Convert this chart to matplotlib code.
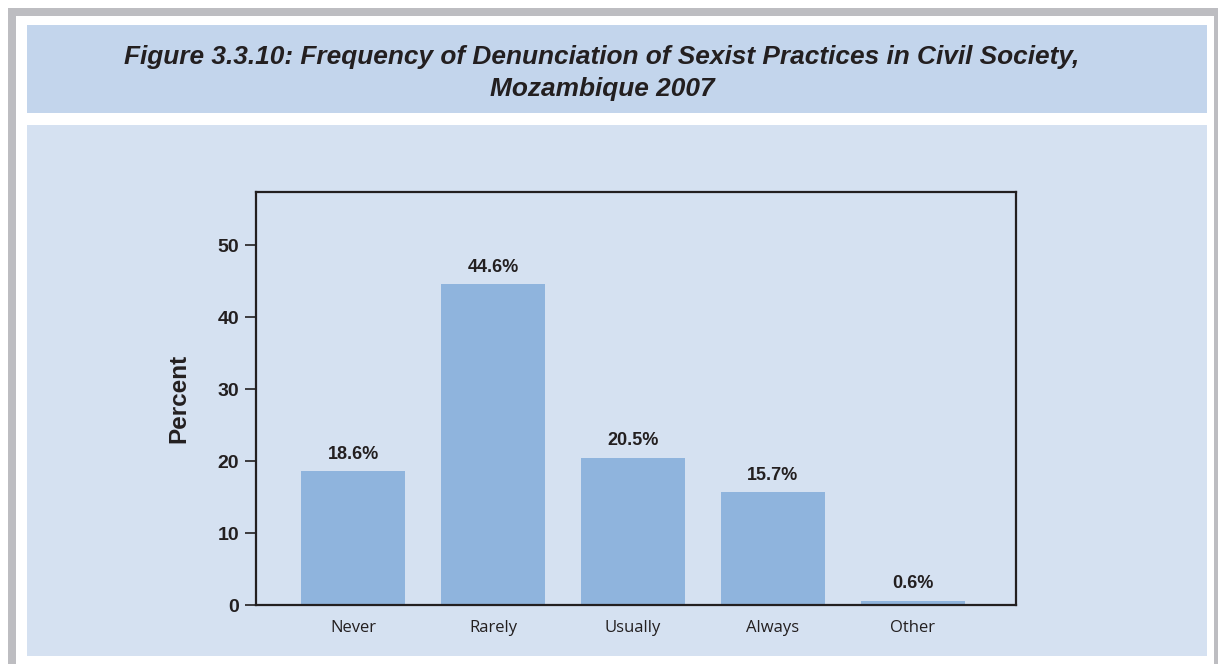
import matplotlib
matplotlib.use("Agg")
import matplotlib.pyplot as plt
from matplotlib.patches import Rectangle

plt.rcParams['font.family'] = ['Liberation Sans', 'DejaVu Sans']

categories = ["Never", "Rarely", "Usually", "Always", "Other"]
percent = [18.6, 44.6, 20.5, 15.7, 0.6]
yticks = [0, 10, 20, 30, 40, 50]
title = "Figure 3.3.10: Frequency of Denunciation of Sexist Practices in Civil Society,\nMozambique 2007"

W, H = 1218, 664
fig = plt.figure(figsize=(W / 100, H / 100), dpi=100)
fig.patch.set_facecolor("white")


def px_box(x0, y0, x1, y1, color):
    # rectangle given in pixel coords, top-left origin
    fig.patches.append(Rectangle((x0 / W, 1 - y1 / H), (x1 - x0) / W, (y1 - y0) / H,
                                 transform=fig.transFigure, facecolor=color,
                                 edgecolor="none", zorder=-1))


# grey frame, title strip, panel
px_box(8, 8, 1218, 16, "#bdbdc1")
px_box(8, 8, 16, 664, "#bdbdc1")
px_box(1214, 8, 1218, 664, "#bdbdc1")
px_box(27, 25, 1207, 113, "#c3d5ec")
px_box(27, 125, 1207, 656, "#d5e1f1")

fig.text(602 / W, 1 - 73 / H, title, ha="center", va="center", fontsize=18.9,
         fontweight="bold", fontstyle="italic", color="#231f20", linespacing=1.4)

ax = fig.add_axes([256 / W, 1 - 605 / H, 760 / W, 413 / H])
ax.set_facecolor("#d5e1f1")
x = list(range(len(categories)))
bars = ax.bar(x, percent, width=0.743, color="#8fb4dd", zorder=2)
for b, v in zip(bars, percent):
    ax.annotate(f"{v}%", (b.get_x() + b.get_width() / 2, v), xytext=(0, 6),
                textcoords="offset points", ha="center", va="bottom",
                fontsize=13, fontweight="bold", color="#231f20")

ax.set_xlim(-0.693, 4.736)
ax.set_ylim(0, 57.4)
ax.set_yticks(yticks)
ax.set_yticklabels([str(t) for t in yticks], fontsize=14, fontweight="bold", color="#231f20")
ax.set_xticks(x)
ax.set_xticklabels(categories, fontsize=12, color="#231f20", family=["Open Sans", "DejaVu Sans"])
ax.tick_params(axis="x", length=0, pad=10.5)
ax.tick_params(axis="y", length=8, width=1.2, color="#231f20", pad=4)
for s in ax.spines.values():
    s.set_linewidth(1.6)
    s.set_color("#231f20")
ax.set_ylabel("Percent", fontsize=17.5, fontweight="bold", color="#231f20", labelpad=20)

fig.savefig("out.png", dpi=100)
